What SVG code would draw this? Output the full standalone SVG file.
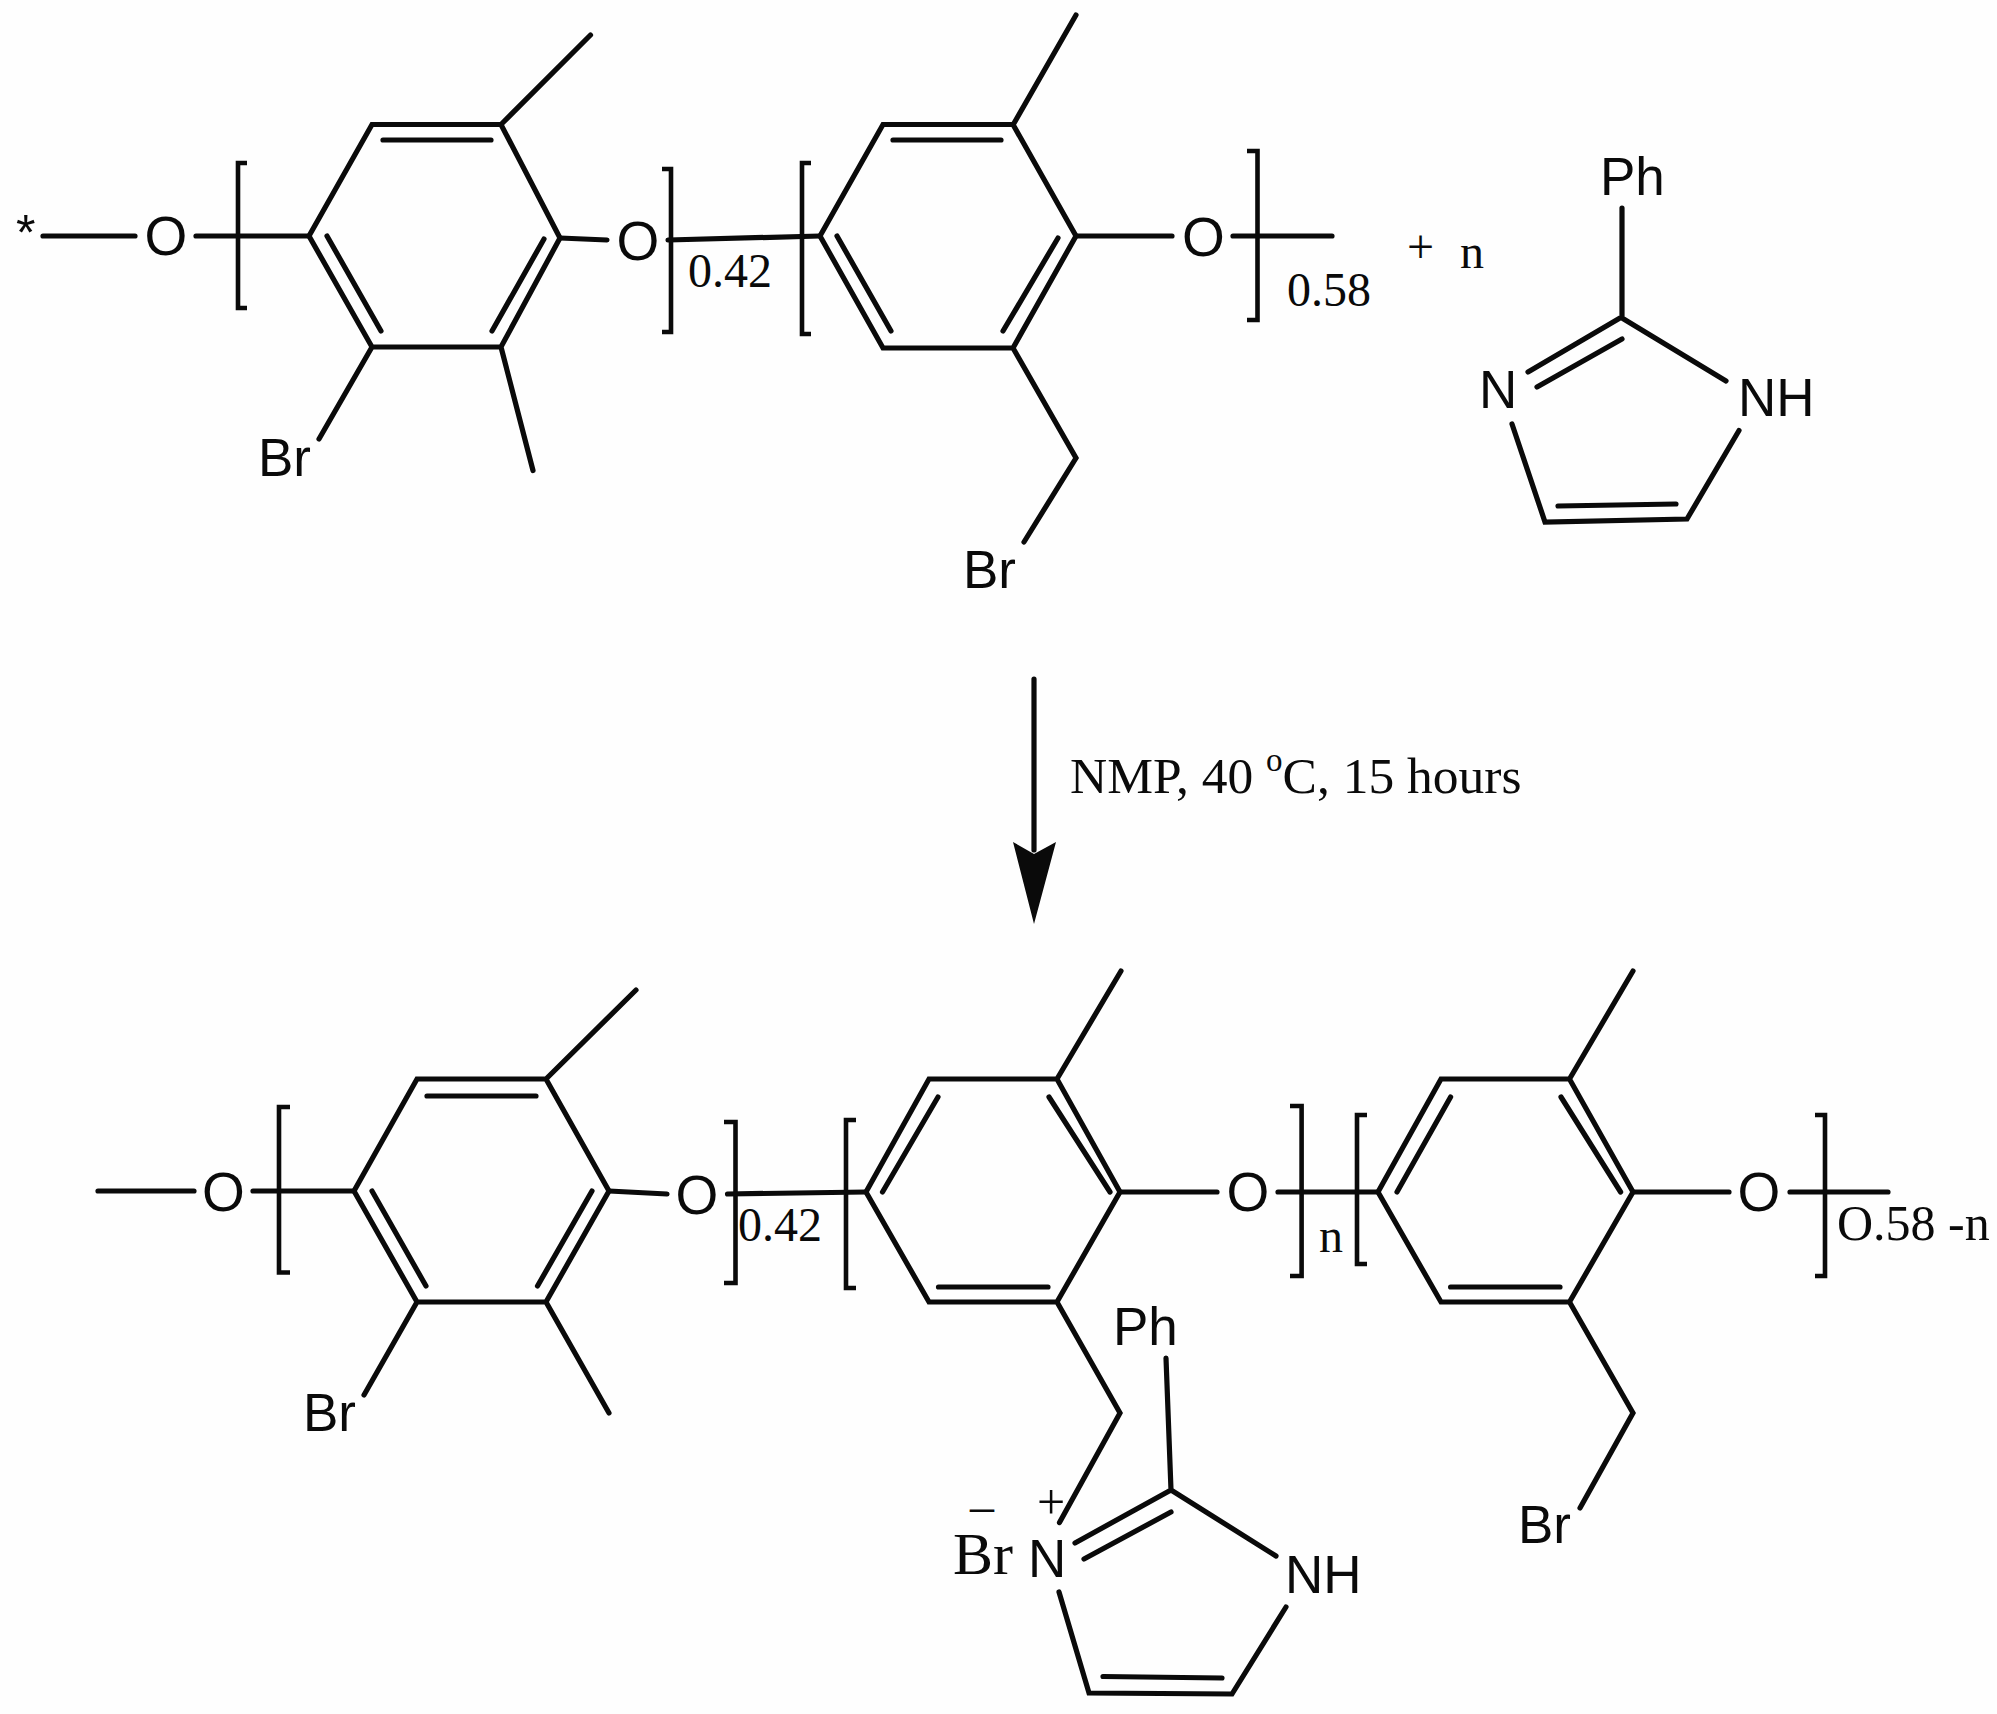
<svg xmlns="http://www.w3.org/2000/svg" width="1997" height="1714" viewBox="0 0 1997 1714">
<style>
.b{fill:none;stroke:#0a0a0a;stroke-width:5.2;stroke-linecap:round;stroke-linejoin:miter}
.t{fill:none;stroke:#0a0a0a;stroke-width:4.6;stroke-linecap:butt;stroke-linejoin:miter}
text{fill:#0a0a0a}
.s{font-family:"Liberation Sans",Arial,sans-serif;font-size:53px}
.o{font-family:"Liberation Sans",Arial,sans-serif;font-size:55px;text-anchor:middle}
.r{font-family:"Liberation Serif","Times New Roman",serif;font-size:48px}
</style>
<rect width="1997" height="1714" fill="#fefefe"/>
<g id="connectors">
<path class="b" d="M43 236H135M196 236H309M560 238L607 240M668 240L820 236M1076 236H1172M1233 236H1332"/>
<path class="b" d="M98 1191H194M253 1191H354M609 1191L667 1194M727.5 1194L866 1192M1120 1192H1217M1278 1192H1378M1633 1192H1729M1790 1192H1888"/>
</g>
<g id="reaction-arrow">
<path class="b" d="M1034 679V850"/>
<path d="M1013 842L1034 854L1056 842L1034 924Z" fill="#0a0a0a"/>
<text class="r" x="1070" y="793" style="font-size:51.500px">NMP, 40 <tspan dy="-22" style="font-size:33px">o</tspan><tspan dy="22">C, 15 hours</tspan></text>
</g>
<g id="top-ring-1">
<path class="b" d="M309 236L372 124.5H501L560 238L501 347H372ZM383 140H491M327 236L381 331M544 239L492 331M501 124.5L590.5 35M501 347L533 470.5M372 347L319 439"/>
<text class="s" x="258" y="476">Br</text>
</g>
<g id="top-label-star"><text x="16" y="250" style="font-family:'Liberation Sans',sans-serif;font-size:50px">*</text></g>
<g id="top-oxygen-1"><text class="o" x="166" y="255">O</text></g>
<g id="top-oxygen-2"><text class="o" x="638" y="260">O</text></g>
<g id="top-bracket-1">
<path class="t" d="M247 163H238V308H247M662 169H671V332H662"/>
<text class="r" x="688" y="287">0.42</text>
</g>
<g id="top-ring-2">
<path class="b" d="M820 236L883 124.5H1013L1076 236L1013 348H883ZM893 140H1001M837 236L891 331M1058 238L1003 331M1013 125L1076 15M1013 348L1076 458L1024 542"/>
<text class="s" x="963" y="588">Br</text>
</g>
<g id="top-oxygen-3"><text class="o" x="1203.500" y="256">O</text></g>
<g id="top-bracket-2">
<path class="t" d="M811 163H802V334H811M1247 151H1257.500V320H1247"/>
<text class="r" x="1287" y="306">0.58</text>
</g>
<g id="plus-n">
<text class="r" x="1407" y="263">+</text>
<text class="r" x="1460" y="268">n</text>
</g>
<g id="imidazole-reactant">
<path class="b" d="M1622 208V318L1726 381M1528 372L1620 318M1537 387L1622 339M1512 424L1545 522L1687 519L1739 430.500M1558 506L1676 504"/>
<text class="s" x="1600" y="195">Ph</text>
<text class="s" x="1479" y="408">N</text>
<text class="s" x="1738" y="416">NH</text>
</g>
<g id="bottom-ring-1">
<path class="b" d="M354 1191L417 1079H546L609 1191L546 1302H417ZM427 1096H536M372 1191L426 1286M592 1191L537.500 1286M546 1079L636 990M546 1302L609 1413M417 1302L364 1395"/>
<text class="s" x="303" y="1431">Br</text>
</g>
<g id="bottom-oxygen-1"><text class="o" x="223.500" y="1211">O</text></g>
<g id="bottom-oxygen-2"><text class="o" x="697" y="1214">O</text></g>
<g id="bottom-bracket-1">
<path class="t" d="M290 1107H279V1272.500H290M724 1122H735.500V1283H724"/>
<text class="r" x="738" y="1241">0.42</text>
</g>
<g id="bottom-ring-2">
<path class="b" d="M866 1192L929 1079H1057L1120 1192L1057 1302H929ZM882.500 1192L938 1097M1049 1097L1110 1192M938.500 1287H1048M1057 1079L1121 971M1057 1302L1120 1413L1059.500 1522.600"/>
</g>
<g id="bottom-oxygen-3"><text class="o" x="1248" y="1211">O</text></g>
<g id="bottom-bracket-2">
<path class="t" d="M856 1120H846V1288H856M1290 1106H1301.600V1276H1290"/>
<text class="r" x="1319" y="1252">n</text>
</g>
<g id="bottom-ring-3">
<path class="b" d="M1378 1192L1441 1079H1569.500L1633 1192L1569.500 1302H1441ZM1397 1192L1450.600 1097M1561 1097L1620.600 1192M1450.600 1287H1560M1569.500 1079L1633 971M1569.500 1302L1633 1413L1580 1508"/>
<text class="s" x="1518" y="1543">Br</text>
</g>
<g id="bottom-oxygen-4"><text class="o" x="1759" y="1211">O</text></g>
<g id="bottom-bracket-3">
<path class="t" d="M1367 1115H1357V1264H1367M1815 1115H1825V1276H1815"/>
<text class="r" x="1837" y="1240" style="font-size:50px">O.58 -n</text>
</g>
<g id="imidazolium-product">
<path class="b" d="M1166 1358L1171 1490L1276 1556M1075 1543L1171 1490M1084 1559L1171 1512M1059 1592L1089 1693L1232 1694L1286 1607M1103 1676.500L1222 1678"/>
<text class="s" x="1113" y="1345">Ph</text>
<text class="s" x="1028" y="1577">N</text>
<text class="s" x="1285" y="1593">NH</text>
<text class="r" x="1037" y="1519" style="font-size:50px">+</text>
<text class="r" x="970" y="1522">–</text>
<text class="r" x="953" y="1574" style="font-size:60px">Br</text>
</g>
</svg>
